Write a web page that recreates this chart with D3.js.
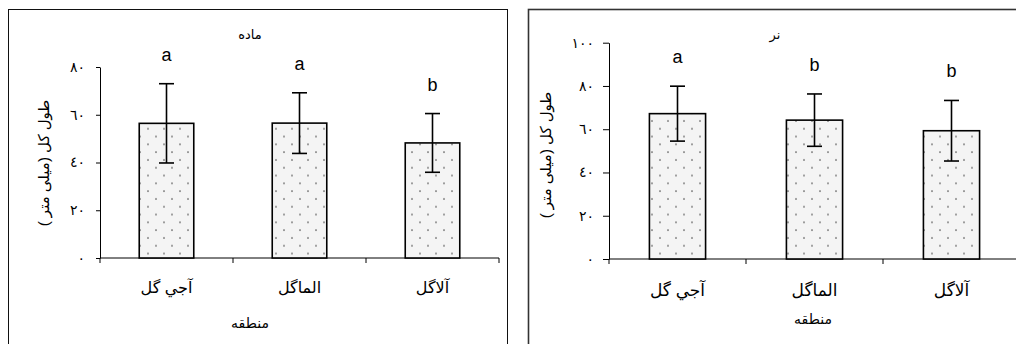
<!DOCTYPE html>
<html>
<head>
<meta charset="utf-8">
<script src="https://cdn.jsdelivr.net/npm/d3@7"></script>
<style>
body { margin: 0; background: #fff; }
text { font-family: "Liberation Sans", "DejaVu Sans", Arial, sans-serif; }
</style>
</head>
<body>
<script>
"use strict"
const w = 1016;
const h = 344;

// data
const regions = ['آجي گل', 'الماگل', 'آلاگل'];
const femaleMean = [56.4, 56.5, 48.2];
const femaleErr = [16.6, 12.7, 12.3];
const femaleLetters = ['a', 'a', 'b'];
const femaleTicks = [0, 20, 40, 60, 80];
const maleMean = [67.2, 64.2, 59.3];
const maleErr = [12.7, 12.1, 14.0];
const maleLetters = ['a', 'b', 'b'];
const maleTicks = [0, 20, 40, 60, 80, 100];
const yTitle = 'طول کل (میلی متر )';
const xTitle = 'منطقه';

const toFa = n => String(n).replace(/\d/g, d => '٠١٢٣٤٥٦٧٨٩'[d]);

const svg = d3.select('body')
	.append('svg')
	.attr('width', w)
	.attr('height', h);

const pat = svg.append('defs').append('pattern')
	.attr('id', 'dots')
	.attr('patternUnits', 'userSpaceOnUse')
	.attr('width', 16)
	.attr('height', 15.6);
pat.append('rect').attr('width', 16).attr('height', 15.6).attr('fill', '#f4f4f4');
pat.append('circle').attr('cx', 4).attr('cy', 4).attr('r', 0.8).attr('fill', '#444');
pat.append('circle').attr('cx', 12).attr('cy', 11.8).attr('r', 0.8).attr('fill', '#444');

drawPanel({
	frame: [8.5, 9.5, 499, 400], frameStroke: '#111', frameWidth: 1,
	x0: 100, x1: 499, y0: 258, y1: 67,
	tickSize: 4, tickPad: 11, tickFont: 14, catFont: 16, catY: 293,
	title: 'ماده', titleX: 250, titleY: 39,
	yTitleX: 43, yTitleY: 163, xTitleX: 250, xTitleY: 328,
	mean: femaleMean, err: femaleErr, letters: femaleLetters, ticks: femaleTicks
});

drawPanel({
	frame: [528.5, 9.5, 520, 400], frameStroke: '#333', frameWidth: 1.6,
	x0: 609, x1: 1020, y0: 259, y1: 42.7,
	tickSize: 6, tickPad: 9, tickFont: 14, catFont: 17, catY: 296,
	title: 'نر', titleX: 775, titleY: 39,
	yTitleX: 545, yTitleY: 155, xTitleX: 813, xTitleY: 324,
	mean: maleMean, err: maleErr, letters: maleLetters, ticks: maleTicks
});

function drawPanel(p) {
	const g = svg.append('g');

	g.append('rect')
		.attr('x', p.frame[0]).attr('y', p.frame[1])
		.attr('width', p.frame[2]).attr('height', p.frame[3])
		.attr('fill', 'none')
		.attr('stroke', p.frameStroke)
		.attr('stroke-width', p.frameWidth);

	const x = d3.scaleBand()
		.domain(regions)
		.range([p.x0, p.x1])
		.paddingInner(0.59)
		.paddingOuter(0.295);

	const y = d3.scaleLinear()
		.domain([0, d3.max(p.ticks)])
		.range([p.y0, p.y1]);

	const yAxis = g.append('g')
		.attr('transform', 'translate(' + p.x0 + ',0)')
		.call(d3.axisLeft(y)
			.tickValues(p.ticks)
			.tickFormat(toFa)
			.tickSize(p.tickSize)
			.tickSizeOuter(0)
			.tickPadding(p.tickPad));
	yAxis.selectAll('text')
		.attr('font-size', p.tickFont)
		.attr('font-family', '"DejaVu Sans", sans-serif')
		.attr('fill', '#000');
	yAxis.selectAll('line, path').attr('stroke', '#000');

	// x axis: line with ticks on category boundaries
	g.append('line')
		.attr('x1', p.x0).attr('x2', p.x1)
		.attr('y1', y(0)).attr('y2', y(0))
		.attr('stroke', '#000');
	g.selectAll('.xtick')
		.data(d3.range(regions.length + 1))
		.enter()
		.append('line')
		.attr('x1', i => p.x0 + i * x.step())
		.attr('x2', i => p.x0 + i * x.step())
		.attr('y1', y(0))
		.attr('y2', y(0) + 5)
		.attr('stroke', '#000');

	g.selectAll('.cat')
		.data(regions)
		.enter()
		.append('text')
		.attr('x', d => x(d) + x.bandwidth() / 2)
		.attr('y', p.catY)
		.attr('text-anchor', 'middle')
		.attr('font-size', p.catFont)
		.text(d => d);

	g.selectAll('.bar')
		.data(p.mean)
		.enter()
		.append('rect')
		.attr('x', (d, i) => x(regions[i]))
		.attr('y', d => y(d))
		.attr('width', x.bandwidth())
		.attr('height', d => y(0) - y(d))
		.attr('fill', 'url(#dots)')
		.attr('stroke', '#000')
		.attr('stroke-width', 1.6);

	const eb = g.selectAll('.err')
		.data(p.mean)
		.enter()
		.append('g');
	eb.append('line')
		.attr('x1', (d, i) => x(regions[i]) + x.bandwidth() / 2)
		.attr('x2', (d, i) => x(regions[i]) + x.bandwidth() / 2)
		.attr('y1', (d, i) => y(d + p.err[i]))
		.attr('y2', (d, i) => y(d - p.err[i]));
	eb.append('line')
		.attr('x1', (d, i) => x(regions[i]) + x.bandwidth() / 2 - 7.5)
		.attr('x2', (d, i) => x(regions[i]) + x.bandwidth() / 2 + 7.5)
		.attr('y1', (d, i) => y(d + p.err[i]))
		.attr('y2', (d, i) => y(d + p.err[i]));
	eb.append('line')
		.attr('x1', (d, i) => x(regions[i]) + x.bandwidth() / 2 - 7.5)
		.attr('x2', (d, i) => x(regions[i]) + x.bandwidth() / 2 + 7.5)
		.attr('y1', (d, i) => y(d - p.err[i]))
		.attr('y2', (d, i) => y(d - p.err[i]));
	eb.selectAll('line').attr('stroke', '#000').attr('stroke-width', 1.6);

	g.selectAll('.letter')
		.data(p.letters)
		.enter()
		.append('text')
		.attr('x', (d, i) => x(regions[i]) + x.bandwidth() / 2)
		.attr('y', (d, i) => y(p.mean[i] + p.err[i]) - 23)
		.attr('text-anchor', 'middle')
		.attr('font-size', 18)
		.text(d => d);

	g.append('text')
		.attr('x', p.titleX).attr('y', p.titleY)
		.attr('text-anchor', 'middle')
		.attr('font-size', 13)
		.text(p.title);

	g.append('text')
		.attr('transform', 'translate(' + p.yTitleX + ',' + p.yTitleY + ') rotate(-90)')
		.attr('text-anchor', 'middle')
		.attr('dominant-baseline', 'central')
		.attr('font-size', 15)
		.text(yTitle);

	g.append('text')
		.attr('x', p.xTitleX).attr('y', p.xTitleY)
		.attr('text-anchor', 'middle')
		.attr('font-size', 14)
		.text(xTitle);
}
</script>
</body>
</html>
